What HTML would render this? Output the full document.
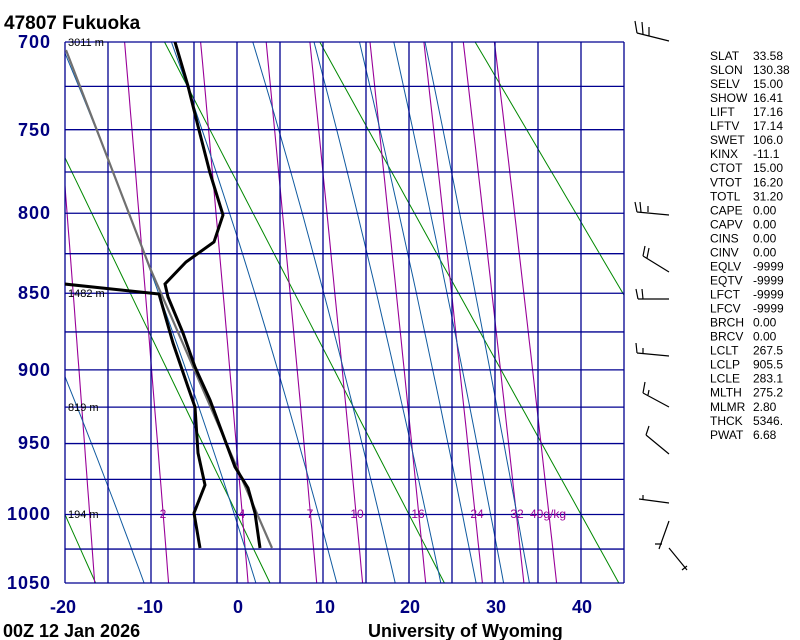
<!DOCTYPE html>
<html><head><meta charset="utf-8">
<style>
html,body{margin:0;padding:0;background:#fff;}
svg{display:block;font-family:"Liberation Sans",sans-serif;}
.b{font-weight:bold;font-size:18px;}
.ax{font-weight:bold;font-size:18px;fill:#000080;}
.st{font-size:12px;fill:#000;}
.ml{font-size:12px;fill:#990099;}
.hl{font-size:11px;fill:#000;}
</style></head><body>
<svg id="s" width="800" height="640" viewBox="0 0 800 640" xmlns="http://www.w3.org/2000/svg">
<defs><clipPath id="c"><rect x="65" y="42" width="559" height="541"/></clipPath></defs>
<g id="bg" clip-path="url(#c)"></g>
<g id="grid"></g>
<g id="snd" clip-path="url(#c)"></g>
<text x="4" y="29" class="b" style="font-size:19px">47807  Fukuoka</text>
<g class="ax" text-anchor="end" style="letter-spacing:1px">
<text x="51" y="48">700</text><text x="51" y="136">750</text><text x="51" y="219">800</text>
<text x="51" y="299">850</text><text x="51" y="376">900</text><text x="51" y="449">950</text>
<text x="51" y="520">1000</text><text x="51" y="589">1050</text>
</g>
<g class="ax" text-anchor="middle">
<text x="63" y="613">-20</text><text x="150" y="613">-10</text><text x="238" y="613">0</text>
<text x="325" y="613">10</text><text x="410" y="613">20</text><text x="496" y="613">30</text><text x="582" y="613">40</text>
</g>
<text x="3" y="637" class="b">00Z 12 Jan 2026</text>
<text x="368" y="637" class="b">University of Wyoming</text>
<g class="hl">
<text x="68" y="46">3011 m</text><text x="68" y="297">1482 m</text>
<text x="68" y="411">819 m</text><text x="68" y="518">194 m</text>
</g>
<g class="ml" text-anchor="middle">
<text x="163" y="518">2</text><text x="242" y="518">4</text><text x="310" y="518">7</text>
<text x="357" y="518">10</text><text x="418" y="518">16</text><text x="477" y="518">24</text>
<text x="517" y="518">32</text><text x="530" y="518" text-anchor="start">40g/kg</text>
</g>
<g class="st" id="stats"></g>
<g stroke="#000" stroke-width="1.2" fill="none">
<path d="M637,33 L669,41 M637,33 L635,21 M643,34 L642,22 M649,36 L649,27"/>
<path d="M637,212 L669,215 M637,212 L635,202 M641,212 L640,202 M648,212 L648,206"/>
<path d="M643,256 L669,272 M643,256 L645,246 M647,258 L649,248"/>
<path d="M638,299 L669,299 M638,299 L636,289 M643,299 L642,289"/>
<path d="M637,353 L669,356 M637,353 L636,343 M643,354 L643,348"/>
<path d="M643,393 L669,407 M643,393 L645,382 M648,395 L649,390"/>
<path d="M646,435 L669,454 M646,435 L649,426"/>
<path d="M639,499 L669,503 M643,500 L643,495"/>
<path d="M669,521 L659,549 M655,544 L662,544"/>
<path d="M669,548 L687,570 M682,570 L687,566"/>
</g>
</svg>
<script>
var k=0.286,a=Math.pow(700,k),b=Math.pow(1050,k);
function X(T){return 237+8.6*T;}
function Y(p){return 42+541*(Math.pow(p,k)-a)/(b-a);}
var NS="http://www.w3.org/2000/svg";
function add(g,tag,at){var e=document.createElementNS(NS,tag);for(var q in at)e.setAttribute(q,at[q]);document.getElementById(g).appendChild(e);return e;}
function pl(g,pts,col,w){add(g,"polyline",{points:pts.map(function(p){return p[0].toFixed(1)+","+p[1].toFixed(1);}).join(" "),fill:"none",stroke:col,"stroke-width":w});}
[253.15,273.15,293.15,313.15,333.15].forEach(function(th){var pts=[];for(var p=700;p<=1050;p+=10){pts.push([X(th*Math.pow(p/1000,k)-273.15),Y(p)]);}pl("bg",pts,"#008800",1);});
function Td(e){var l=Math.log(e/6.112);return 243.5*l/(17.67-l);}
[1,2,4,7,10,16,24,32,40].forEach(function(w){var pts=[];for(var p=700;p<=1050;p+=10){pts.push([X(Td(w*p/(622+w))),Y(p)]);}pl("bg",pts,"#990099",1.1);});
function es(T){return 6.112*Math.exp(17.67*T/(T+243.5));}
[-10.8,2.2,11.6,18.4,23.7,27.8,31.0,34.0].forEach(function(T0){var T=T0,pts=[];for(var p=1050;p>=700;p-=1){if(p%10==0)pts.push([X(T),Y(p)]);var TK=T+273.15,e=es(T),rs=0.622*e/(p-e),L=2.5e6;var dTdp=(287*TK+L*rs)/(1004+L*L*rs*0.622/(287*TK*TK))/p;T-=dTdp;}pl("bg",pts,"#105aa0",1);});
for(var t=-20;t<=45;t+=5){add("grid","line",{x1:X(t),y1:42,x2:X(t),y2:583,stroke:"#000090","stroke-width":1.3});}
for(var p=700;p<=1050;p+=25){add("grid","line",{x1:65,y1:Y(p),x2:624,y2:Y(p),stroke:"#000090","stroke-width":1.3});}
pl("snd",[[272,548],[150,268],[66,50]],"#707070",2.2);
pl("snd",[[175,42],[188,86],[199,130],[210,173],[223,215],[214,242],[186,262],[165,284],[168,297],[183,333],[195,367],[210,400],[235,467],[248,488],[255,513],[260,548]],"#000",3);
pl("snd",[[55,283],[159,294],[173,343],[188,387],[195,407],[198,453],[205,485],[194,513],[200,548]],"#000",3);
var S=[["SLAT","33.58"],["SLON","130.38"],["SELV","15.00"],["SHOW","16.41"],["LIFT","17.16"],["LFTV","17.14"],["SWET","106.0"],["KINX","-11.1"],["CTOT","15.00"],["VTOT","16.20"],["TOTL","31.20"],["CAPE","0.00"],["CAPV","0.00"],["CINS","0.00"],["CINV","0.00"],["EQLV","-9999"],["EQTV","-9999"],["LFCT","-9999"],["LFCV","-9999"],["BRCH","0.00"],["BRCV","0.00"],["LCLT","267.5"],["LCLP","905.5"],["LCLE","283.1"],["MLTH","275.2"],["MLMR","2.80"],["THCK","5346."],["PWAT","6.68"]];
S.forEach(function(r,i){var y=60+i*14.03;var t1=add("stats","text",{x:710,y:y});t1.textContent=r[0];var t2=add("stats","text",{x:753,y:y});t2.textContent=r[1];});
</script>
</body></html>
